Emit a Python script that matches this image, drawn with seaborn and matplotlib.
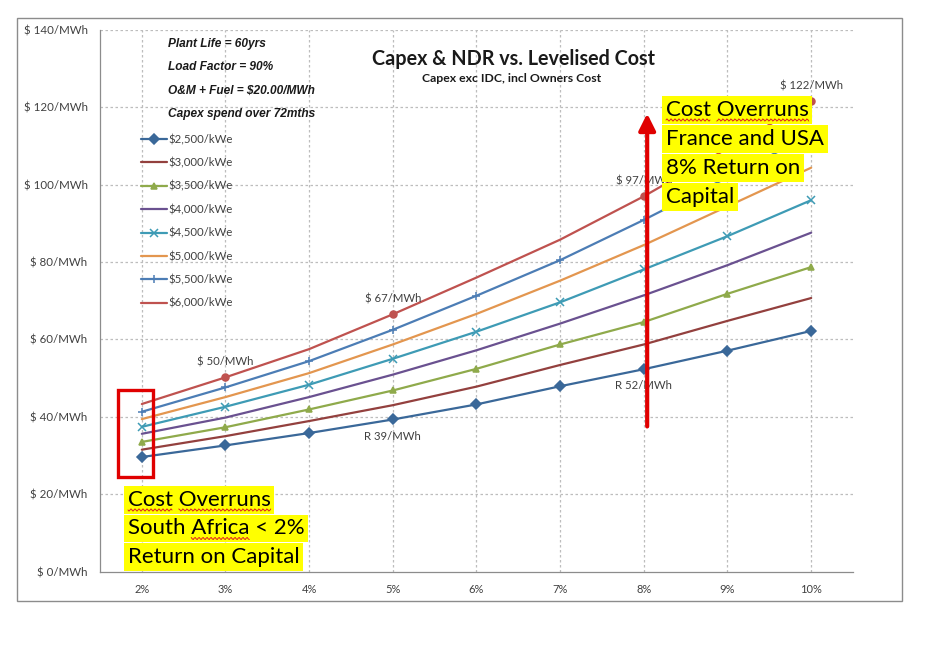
import matplotlib.pyplot as plt
import numpy as np
import pandas as pd
import seaborn as sns
from matplotlib.patches import Rectangle
from matplotlib.lines import Line2D

# Return on capital (categories on the x axis)
rates = ['2%', '3%', '4%', '5%', '6%', '7%', '8%', '9%', '10%']

capex_labels = ['$2,500/kWe', '$3,000/kWe', '$3,500/kWe', '$4,000/kWe',
                '$4,500/kWe', '$5,000/kWe', '$5,500/kWe', '$6,000/kWe']

# Levelised cost, $/MWh
cost_2500 = [29.6, 32.6, 35.8, 39.3, 43.2, 47.9, 52.3, 57.1, 62.2]
cost_3000 = [31.5, 35.0, 38.9, 43.0, 47.8, 53.4, 58.7, 64.8, 70.7]
cost_3500 = [33.5, 37.3, 41.9, 46.8, 52.4, 58.7, 64.5, 71.8, 78.7]
cost_4000 = [35.6, 39.8, 45.1, 50.9, 57.2, 64.1, 71.4, 79.2, 87.6]
cost_4500 = [37.4, 42.6, 48.3, 55.0, 62.0, 69.6, 78.1, 86.7, 96.0]
cost_5000 = [39.4, 45.1, 51.3, 58.7, 66.6, 75.2, 84.4, 94.4, 104.4]
cost_5500 = [41.3, 47.6, 54.4, 62.5, 71.3, 80.5, 90.9, 101.9, 112.9]
cost_6000 = [43.3, 50.2, 57.5, 66.5, 76.0, 85.8, 97.0, 109.4, 121.6]

all_costs = [cost_2500, cost_3000, cost_3500, cost_4000,
             cost_4500, cost_5000, cost_5500, cost_6000]

colors = ['#3A6899', '#93403E', '#8FAA4B', '#6A5190',
          '#3E9BB5', '#E3964F', '#4C7DB5', '#BF524F']
markers = ['D', None, '^', None, 'x', None, '+', 'o']

# data labels: (series index, rate index, text, above?)
point_labels = [(7, 1, '$ 50/MWh', True), (7, 3, '$ 67/MWh', True),
                (7, 6, '$ 97/MWh', True), (7, 8, '$ 122/MWh', True),
                (0, 3, 'R 39/MWh', False), (0, 6, 'R 52/MWh', False)]

assumptions = ['Plant Life = 60yrs', 'Load Factor = 90%',
               'O&M + Fuel = $20.00/MWh', 'Capex spend over 72mths']

note_sa = ['Cost Overruns', 'South Africa < 2%', 'Return on Capital']
note_fr = ['Cost Overruns', 'France and USA', '8% Return on', 'Capital']
# words flagged by the spell checker: (line index, word)
flag_sa = [(0, 'Cost'), (0, 'Overruns'), (1, 'Africa')]
flag_fr = [(0, 'Cost'), (0, 'Overruns')]

rows = []
for lab, vals in zip(capex_labels, all_costs):
    for i, v in enumerate(vals):
        rows.append({'rate': i, 'capex': lab, 'cost': v})
df = pd.DataFrame(rows)

sns.set_style('white')
plt.rcParams['font.family'] = ['Lato', 'DejaVu Sans']

W, H = 935, 645
fig = plt.figure(figsize=(W / 100, H / 100), dpi=100)
ax = fig.add_axes([100 / W, 1 - 571.5 / H, 753 / W, 541.5 / H])

# grid
for y in range(20, 141, 20):
    ax.axhline(y, color='#BDBDBD', lw=0.9, ls=(0, (2, 2)), zorder=0)
for x in range(len(rates)):
    ax.axvline(x, color='#BDBDBD', lw=0.9, ls=(0, (2, 2)), zorder=0)

for k, lab in enumerate(capex_labels):
    sub = df[df['capex'] == lab]
    kw = {}
    if markers[k] == 'o':
        kw['markevery'] = [1, 3, 6, 8]
    sns.lineplot(data=sub, x='rate', y='cost', color=colors[k], lw=1.6,
                 marker=markers[k], markersize=6 if markers[k] in ('+', 'x') else 5,
                 markeredgewidth=1.1, markeredgecolor=colors[k],
                 label=lab, ax=ax, zorder=3, **kw)

# data labels
for s, i, txt, above in point_labels:
    ax.annotate(txt, xy=(i, all_costs[s][i]), xytext=(0, 11 if above else -12),
                textcoords='offset points', ha='center', va='center',
                fontsize=8.2, color='#404040', zorder=4)

ax.set_xlim(-0.5, len(rates) - 0.5)
ax.set_ylim(0, 140)
ax.set_xticks(range(len(rates)))
ax.set_xticklabels(rates)
ax.set_xticks(np.arange(-0.5, len(rates), 1), minor=True)
ax.set_yticks(range(0, 141, 20))
ax.set_yticklabels([f'$ {v}/MWh' for v in range(0, 141, 20)])
ax.tick_params(axis='x', which='major', length=0, pad=9, labelsize=8, labelcolor='#404040')
ax.tick_params(axis='x', which='minor', length=4, direction='out', color='#8C8C8C', width=0.9)
ax.tick_params(axis='y', length=4, direction='out', color='#8C8C8C', width=0.9,
               pad=5, labelsize=8.3, labelcolor='#404040')
ax.set_xlabel('')
ax.set_ylabel('')
for sp in ['top', 'right']:
    ax.spines[sp].set_visible(False)
for sp in ['left', 'bottom']:
    ax.spines[sp].set_color('#8C8C8C')
    ax.spines[sp].set_linewidth(0.9)

leg = ax.legend(loc='upper left', bbox_to_anchor=(141 / W, 1 - 134 / H),
                bbox_transform=fig.transFigure, frameon=False, fontsize=8.2,
                handlelength=2.3, handletextpad=0.15, labelspacing=1.08,
                borderpad=0, borderaxespad=0)
for t in leg.get_texts():
    t.set_color('#404040')
leg.legend_handles[7].set_marker('')

# assumptions block
for j, line in enumerate(assumptions):
    fig.text(168 / W, 1 - (44 + 23.5 * j) / H, line, fontsize=8.6,
             family='Liberation Sans', weight='bold', style='italic',
             ha='left', va='center', color='#1A1A1A')

fig.text(513 / W, 1 - 59 / H, 'Capex & NDR vs. Levelised Cost', fontsize=14.2,
         weight='bold', ha='center', va='center', color='#1A1A1A')
fig.text(512 / W, 1 - 78.5 / H, 'Capex exc IDC, incl Owners Cost', fontsize=8.8,
         weight='bold', ha='center', va='center', color='#1A1A1A')

# red box around 2% and red arrow at 8%
ax.add_patch(Rectangle((-0.285, 24.4), 0.418, 22.5, fill=False,
                       edgecolor='#E00000', lw=2.4, zorder=5))
ax.annotate('', xy=(6.04, 118.4), xytext=(6.04, 37.5),
            arrowprops=dict(arrowstyle='-|>,head_length=0.5,head_width=0.25',
                            color='#E00000', lw=3, mutation_scale=20,
                            shrinkA=0, shrinkB=0), zorder=5)

# highlighted notes
renderer = fig.canvas.get_renderer()


def text_width(s, size):
    t = fig.text(0, 0, s, fontsize=size)
    w = t.get_window_extent(renderer).width
    t.remove()
    return w


def note(lines, x0, y0, step, flags, size=16):
    for j, line in enumerate(lines):
        fig.text(x0 / W, 1 - (y0 + step * j) / H, line, fontsize=size, ha='left',
                 va='center', color='black', zorder=6,
                 bbox=dict(facecolor='#FFFF00', edgecolor='none', pad=2.5))
    for j, word in flags:
        line = lines[j]
        pos = line.index(word)
        end = text_width(line[:pos + len(word)], size)
        start = end - text_width(word, size)
        xs = np.arange(x0 + start, x0 + end, 1.0)
        ys = y0 + step * j + 10 + 1.1 * np.sin(xs * np.pi / 2)
        fig.add_artist(Line2D(xs / W, 1 - ys / H, transform=fig.transFigure,
                              color='#E02020', lw=0.7, zorder=7))


note(note_sa, 128, 500, 28.5, flag_sa)
note(note_fr, 666, 110, 29, flag_fr)

# chart border
fig.add_artist(Rectangle((17 / W, 1 - 601 / H), 885 / W, 583 / H,
                         transform=fig.transFigure, fill=False,
                         edgecolor='#8C8C8C', lw=1))

plt.savefig('out.png', dpi=100, facecolor='white')
